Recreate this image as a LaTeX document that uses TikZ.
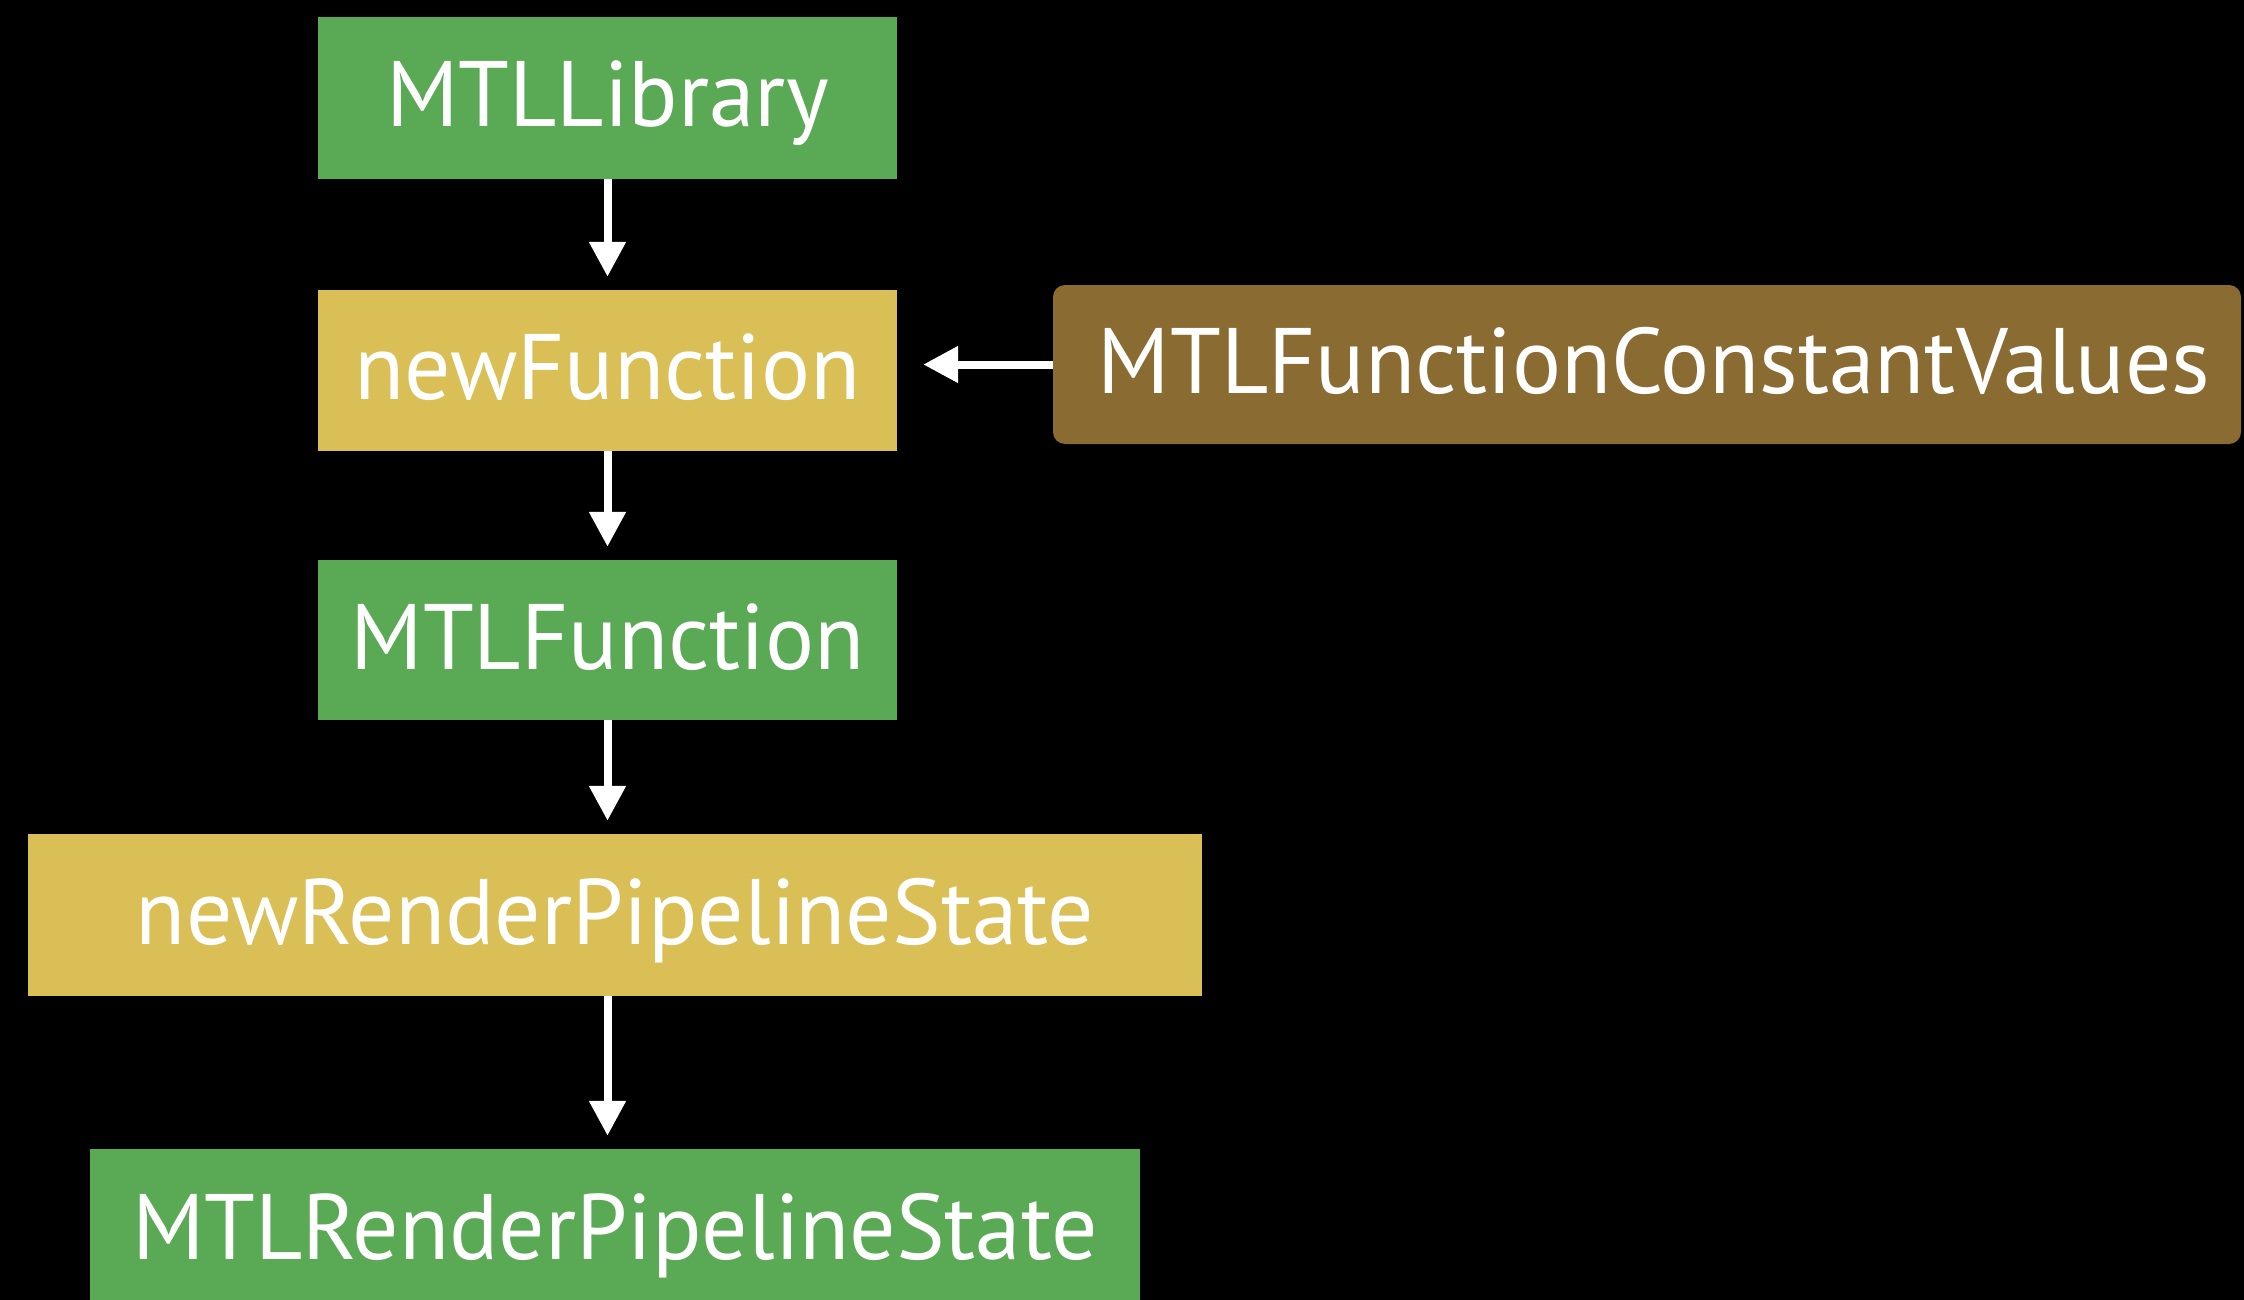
\documentclass[tikz,border=0pt]{standalone}
\usepackage{fontspec}
\setmainfont{PT Sans}[FakeStretch=0.985]
\usetikzlibrary{arrows.meta}

\definecolor{objgreen}{HTML}{5AA955}
\definecolor{callgold}{HTML}{D9BF55}
\definecolor{constbrown}{HTML}{8A6C32}

\tikzset{
  box/.style={rectangle, inner sep=0pt, text=white,
    font=\fontsize{93}{100}\selectfont, text height=65pt, text depth=7pt},
  object/.style={box, fill=objgreen},
  call/.style={box, fill=callgold},
  param/.style={box, fill=constbrown, rounded corners=12pt},
  flow/.style={draw=white, line width=8pt,
    -{Triangle[length=35pt,width=35pt]}, shorten >=13pt},
}

\begin{document}
\begin{tikzpicture}[x=1pt, y=-1pt]
  \fill[black] (0,0) rectangle (2244,1300);
  \useasboundingbox (0,0) rectangle (2244,1300);

  % main chain of objects and calls
  \node[object, minimum width=579pt, minimum height=162pt] (lib) at (607.5,98) {MTLLibrary};
  \node[call,   minimum width=579pt, minimum height=161pt] (newf) at (607.5,370.5) {newFunction};
  \node[object, minimum width=579pt, minimum height=160pt] (fn) at (607.5,640) {MTLFunction};
  \node[call,   minimum width=1174pt, minimum height=162pt] (newr) at (615,915) {newRenderPipelineState};
  \node[object, minimum width=1050pt, minimum height=162pt] (pso) at (615,1230) {MTLRenderPipelineState};

  % constant values fed into newFunction
  \node[param, minimum width=1188pt, minimum height=159pt] (consts) at (1647,364.5)
    {\hspace{14pt}MTLFunctionConstantValues};

  % connectors
  \draw[flow] (lib.south) -- (newf.north);
  \draw[flow] (newf.south) -- (fn.north);
  \draw[flow] (fn.south) -- (fn.south |- newr.north);
  \draw[flow] (newr.south -| fn.south) -- (fn.south |- pso.north);
  \draw[flow, shorten >=26pt] (consts.west) -- (consts.west -| newf.east);
\end{tikzpicture}
\end{document}
